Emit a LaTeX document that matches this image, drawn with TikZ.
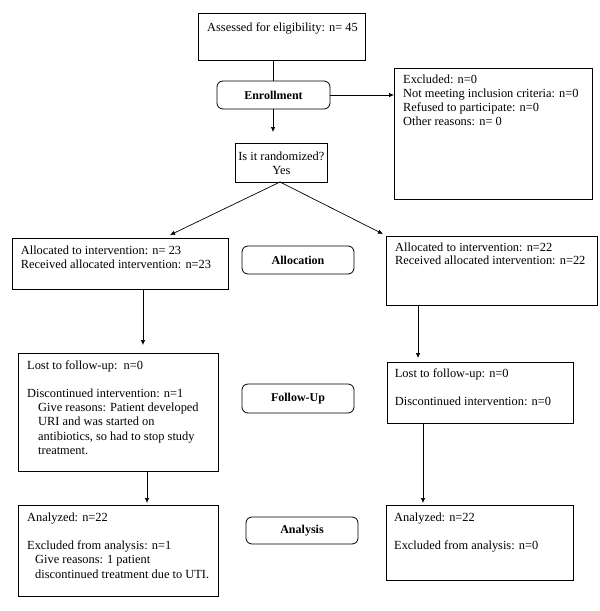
\documentclass[tikz,border=0pt]{standalone}
\usepackage{fontspec}
\setmainfont{Liberation Serif}
\usetikzlibrary{arrows.meta}
\newcommand{\fl}{\rule{0pt}{10pt}}
\begin{document}
\begin{tikzpicture}[x=1pt,y=-1pt,
 box/.style={draw, line width=0.8pt, inner sep=0, anchor=north west},
 txt/.style={inner sep=0, anchor=north west, align=left, font=\fontsize{12.4}{14}\selectfont},
 stage/.style={draw, line width=0.8pt, rounded corners=6pt, font=\fontsize{12}{14}\selectfont\bfseries, inner sep=0},
 arr/.style={-{Latex[length=5pt,width=4.5pt]}, line width=0.7pt},
 ln/.style={line width=0.7pt}]
\useasboundingbox (0,0) rectangle (600,611);
% boxes
\node[box, minimum width=167pt, minimum height=47pt] (assess) at (198,13) {};
\node[stage, minimum width=113pt, minimum height=28pt] (enroll) at (273.5,95) {Enrollment};
\node[box, minimum width=198pt, minimum height=131pt] (excl) at (394,68) {};
\node[box, minimum width=92pt, minimum height=39pt] (rand) at (235,143) {};
\node[box, minimum width=216pt, minimum height=51pt] (allocL) at (11.7,238) {};
\node[stage, minimum width=112pt, minimum height=28pt] (allocS) at (298,260) {Allocation};
\node[box, minimum width=211pt, minimum height=69pt] (allocR) at (386,236) {};
\node[box, minimum width=200pt, minimum height=118pt] (fuL) at (18,353) {};
\node[stage, minimum width=112pt, minimum height=29pt] (fuS) at (298,398.5) {Follow-Up};
\node[box, minimum width=186pt, minimum height=61pt] (fuR) at (386.7,362) {};
\node[box, minimum width=200pt, minimum height=91pt] (anL) at (18,505) {};
\node[stage, minimum width=112pt, minimum height=27pt] (anS) at (302,530.5) {Analysis};
\node[box, minimum width=187pt, minimum height=75pt] (anR) at (386,505) {};
% texts (north west = first baseline - 10pt)
\node[txt] (assessT) at ([shift={(9pt,-8pt)}]assess.north west) {\fl Assessed for eligibility: n= 45};
\node[txt] (exclT) at ([shift={(9pt,-5pt)}]excl.north west) {\fl Excluded: n=0\\Not meeting inclusion criteria: n=0\\Refused to participate: n=0\\Other reasons: n= 0};
\node[txt, align=center, anchor=center] (randT) at (rand.center) {Is it randomized?\\Yes};
\node[txt] (allocLT) at ([shift={(9pt,-6pt)}]allocL.north west) {\fl Allocated to intervention: n= 23\\Received allocated intervention: n=23};
\node[txt, font=\fontsize{12.4}{13.3}\selectfont] (allocRT) at ([shift={(9pt,-5pt)}]allocR.north west) {\fl Allocated to intervention: n=22\\Received allocated intervention: n=22};
\node[txt, font=\fontsize{12.4}{14.2}\selectfont] (fuLT) at ([shift={(9pt,-6pt)}]fuL.north west) {\fl Lost to follow-up:\ \ n=0\\[14pt]Discontinued intervention: n=1\\\hspace*{11pt}Give reasons: Patient developed\\\hspace*{11pt}URI and was started on\\\hspace*{11pt}antibiotics, so had to stop study\\\hspace*{11pt}treatment.};
\node[txt] (fuRT) at ([shift={(8pt,-5pt)}]fuR.north west) {\fl Lost to follow-up: n=0\\[14pt]Discontinued intervention: n=0};
\node[txt, font=\fontsize{12.4}{14.5}\selectfont] (anLT) at ([shift={(9pt,-6pt)}]anL.north west) {\fl Analyzed: n=22\\[13.5pt]Excluded from analysis: n=1\\\hspace*{8pt}Give reasons: 1 patient\\\hspace*{8pt}discontinued treatment due to UTI.};
\node[txt] (anRT) at ([shift={(8pt,-6pt)}]anR.north west) {\fl Analyzed: n=22\\[14.5pt]Excluded from analysis: n=0};
% arrow end points
\coordinate (t1) at (273,132);
\coordinate (apex) at (280,182);
\coordinate (tL) at (170,235);
\coordinate (tR) at (383,234);
\coordinate (t2) at (143,345);
\coordinate (t3) at (418,358);
\coordinate (t4) at (147,503);
\coordinate (t5) at (423,503);
% connectors
\draw[ln] (assess.south -| t1) -- (enroll.north -| t1);
\draw[arr] (enroll.east) -- (excl.west |- enroll.east);
\draw[arr] (enroll.south -| t1) -- (t1);
\draw[arr] (apex) -- (tL);
\draw[arr] (apex) -- (tR);
\draw[arr] (allocL.south -| t2) -- (t2);
\draw[arr] (allocR.south -| t3) -- (t3);
\draw[arr] (fuL.south -| t4) -- (t4);
\draw[arr] (fuR.south -| t5) -- (t5);
\end{tikzpicture}
\end{document}
